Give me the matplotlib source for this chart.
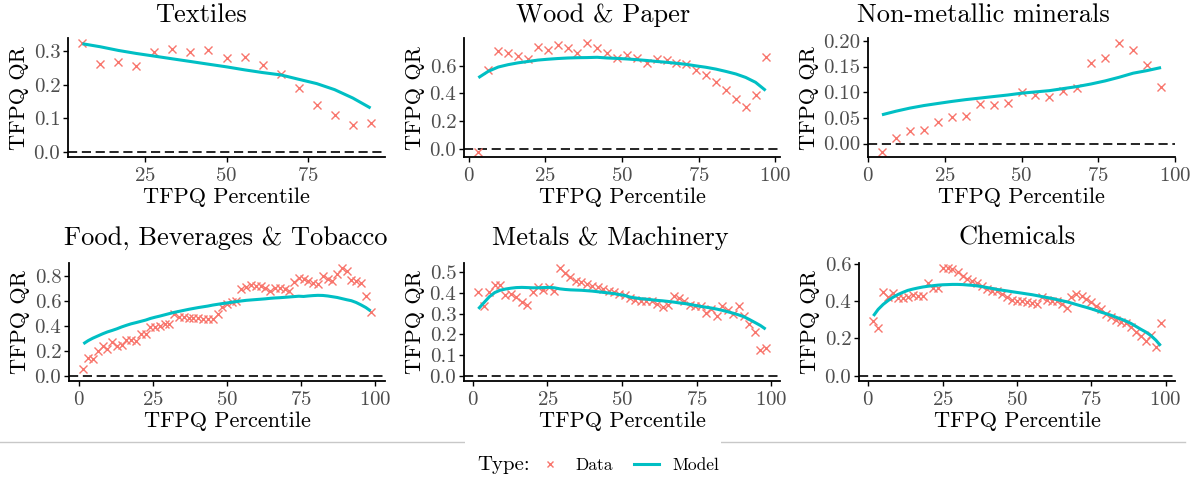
import matplotlib
matplotlib.use("Agg")
import matplotlib.pyplot as plt
from matplotlib.lines import Line2D
from matplotlib.patches import Rectangle
from matplotlib.ticker import FixedLocator, FormatStrFormatter

plt.rcParams['font.family'] = ['cmr10', 'DejaVu Sans']
plt.rcParams['mathtext.fontset'] = 'cm'
plt.rcParams['axes.formatter.use_mathtext'] = True

DATA_COLOR = '#F8766D'
MODEL_COLOR = '#00BFC4'

# ---------------- data ----------------
titles = ["Textiles", "Wood & Paper", "Non-metallic minerals",
          "Food, Beverages & Tobacco", "Metals & Machinery", "Chemicals"]

textiles_x = [5.6, 11.1, 16.7, 22.2, 27.8, 33.3, 38.9, 44.4, 50.0, 55.6, 61.1,
              66.7, 72.2, 77.8, 83.3, 88.9, 94.4]
textiles_data = [0.323, 0.263, 0.268, 0.255, 0.296, 0.306, 0.298, 0.302, 0.279,
                 0.281, 0.258, 0.233, 0.189, 0.140, 0.110, 0.080, 0.086]
textiles_model = [0.322, 0.313, 0.302, 0.293, 0.285, 0.277, 0.269, 0.261, 0.253,
                  0.244, 0.236, 0.229, 0.216, 0.203, 0.185, 0.160, 0.130]

wood_x = [3.2, 6.5, 9.7, 12.9, 16.1, 19.4, 22.6, 25.8, 29.0, 32.3, 35.5, 38.7,
          41.9, 45.2, 48.4, 51.6, 54.8, 58.1, 61.3, 64.5, 67.7, 71.0, 74.2, 77.4,
          80.6, 83.9, 87.1, 90.3, 93.5, 96.8]
wood_data = [-0.019, 0.571, 0.704, 0.692, 0.667, 0.651, 0.733, 0.710, 0.752, 0.726,
             0.692, 0.760, 0.730, 0.692, 0.653, 0.677, 0.658, 0.621, 0.646, 0.638,
             0.621, 0.609, 0.571, 0.534, 0.481, 0.426, 0.358, 0.305, 0.392, 0.663]
wood_model = [0.513, 0.560, 0.590, 0.607, 0.620, 0.630, 0.640, 0.646, 0.651, 0.655,
              0.657, 0.658, 0.660, 0.655, 0.652, 0.648, 0.643, 0.637, 0.630, 0.624,
              0.617, 0.609, 0.598, 0.588, 0.575, 0.558, 0.540, 0.515, 0.480, 0.421]

nonmet_x = [4.5, 9.1, 13.6, 18.2, 22.7, 27.3, 31.8, 36.4, 40.9, 45.5, 50.0, 54.5,
            59.1, 63.6, 68.2, 72.7, 77.3, 81.8, 86.4, 90.9, 95.5]
nonmet_data = [-0.0157, 0.011, 0.0235, 0.026, 0.0425, 0.0516, 0.053, 0.0778, 0.0758,
               0.079, 0.100, 0.0954, 0.090, 0.103, 0.1085, 0.157, 0.166, 0.195,
               0.182, 0.152, 0.111]
nonmet_model = [0.056, 0.063, 0.069, 0.074, 0.078, 0.082, 0.0855, 0.0885, 0.0915,
                0.0945, 0.098, 0.1005, 0.103, 0.107, 0.111, 0.116, 0.122, 0.129,
                0.137, 0.142, 0.148]

food_x = [1.6, 3.2, 4.8, 6.5, 8.1, 9.7, 11.3, 12.9, 14.5, 16.1, 17.7, 19.4, 21.0,
          22.6, 24.2, 25.8, 27.4, 29.0, 30.6, 32.3, 33.9, 35.5, 37.1, 38.7, 40.3,
          41.9, 43.5, 45.2, 46.8, 48.4, 50.0, 51.6, 53.2, 54.8, 56.5, 58.1, 59.7,
          61.3, 62.9, 64.5, 66.1, 67.7, 69.4, 71.0, 72.6, 74.2, 75.8, 77.4, 79.0,
          80.6, 82.3, 83.9, 85.5, 87.1, 88.7, 90.3, 91.9, 93.5, 95.2, 96.8, 98.4]
food_data = [0.056, 0.144, 0.133, 0.200, 0.234, 0.210, 0.270, 0.240, 0.247, 0.287,
             0.282, 0.276, 0.335, 0.330, 0.393, 0.393, 0.400, 0.410, 0.410, 0.490,
             0.473, 0.468, 0.462, 0.462, 0.462, 0.455, 0.452, 0.452, 0.490, 0.553,
             0.574, 0.593, 0.600, 0.694, 0.712, 0.726, 0.720, 0.715, 0.700, 0.680,
             0.700, 0.700, 0.694, 0.680, 0.750, 0.780, 0.775, 0.760, 0.740, 0.730,
             0.795, 0.775, 0.755, 0.813, 0.859, 0.835, 0.768, 0.755, 0.740, 0.635,
             0.512]
food_model = [0.255, 0.280, 0.300, 0.318, 0.335, 0.350, 0.362, 0.375, 0.390, 0.403,
              0.415, 0.425, 0.435, 0.445, 0.458, 0.468, 0.477, 0.487, 0.497, 0.507,
              0.515, 0.523, 0.531, 0.538, 0.545, 0.551, 0.557, 0.565, 0.571, 0.577,
              0.582, 0.588, 0.593, 0.598, 0.603, 0.606, 0.609, 0.612, 0.615, 0.619,
              0.622, 0.624, 0.627, 0.630, 0.633, 0.636, 0.634, 0.638, 0.641, 0.643,
              0.642, 0.638, 0.632, 0.626, 0.617, 0.608, 0.600, 0.586, 0.566, 0.545,
              0.518]

metals_x = [1.8, 3.6, 5.5, 7.3, 9.1, 10.9, 12.7, 14.5, 16.4, 18.2, 20.0, 21.8, 23.6,
            25.5, 27.3, 29.1, 30.9, 32.7, 34.5, 36.4, 38.2, 40.0, 41.8, 43.6, 45.5,
            47.3, 49.1, 50.9, 52.7, 54.5, 56.4, 58.2, 60.0, 61.8, 63.6, 65.5, 67.3,
            69.1, 70.9, 72.7, 74.5, 76.4, 78.2, 80.0, 81.8, 83.6, 85.5, 87.3, 89.1,
            90.9, 92.7, 94.5, 96.4, 98.2]
metals_data = [0.406, 0.335, 0.403, 0.439, 0.439, 0.390, 0.395, 0.379, 0.355, 0.342,
               0.403, 0.427, 0.415, 0.427, 0.411, 0.519, 0.497, 0.476, 0.460, 0.455,
               0.444, 0.435, 0.427, 0.419, 0.411, 0.403, 0.395, 0.392, 0.374, 0.366,
               0.360, 0.360, 0.363, 0.347, 0.331, 0.342, 0.387, 0.374, 0.363, 0.342,
               0.335, 0.335, 0.303, 0.323, 0.290, 0.335, 0.319, 0.298, 0.335, 0.290,
               0.250, 0.210, 0.124, 0.134]
metals_model = [0.323, 0.352, 0.382, 0.402, 0.413, 0.419, 0.423, 0.426, 0.427, 0.426,
                0.425, 0.425, 0.426, 0.427, 0.425, 0.420, 0.417, 0.415, 0.414, 0.413,
                0.411, 0.409, 0.406, 0.403, 0.400, 0.397, 0.392, 0.388, 0.380, 0.376,
                0.372, 0.370, 0.367, 0.364, 0.362, 0.359, 0.356, 0.352, 0.349, 0.345,
                0.340, 0.335, 0.331, 0.327, 0.322, 0.316, 0.309, 0.302, 0.294, 0.285,
                0.272, 0.258, 0.243, 0.225]

chem_x = [1.7, 3.3, 5.0, 6.7, 8.3, 10.0, 11.7, 13.3, 15.0, 16.7, 18.3, 20.0, 21.7,
          23.3, 25.0, 26.7, 28.3, 30.0, 31.7, 33.3, 35.0, 36.7, 38.3, 40.0, 41.7,
          43.3, 45.0, 46.7, 48.3, 50.0, 51.7, 53.3, 55.0, 56.7, 58.3, 60.0, 61.7,
          63.3, 65.0, 66.7, 68.3, 70.0, 71.7, 73.3, 75.0, 76.7, 78.3, 80.0, 81.7,
          83.3, 85.0, 86.7, 88.3, 90.0, 91.7, 93.3, 95.0, 96.7, 98.3]
chem_data = [0.293, 0.255, 0.449, 0.422, 0.445, 0.417, 0.417, 0.422, 0.431, 0.428,
             0.428, 0.494, 0.471, 0.471, 0.575, 0.575, 0.571, 0.553, 0.535, 0.517,
             0.507, 0.494, 0.481, 0.467, 0.453, 0.453, 0.440, 0.422, 0.404, 0.400,
             0.400, 0.395, 0.390, 0.385, 0.420, 0.405, 0.400, 0.400, 0.385, 0.360,
             0.420, 0.440, 0.425, 0.410, 0.395, 0.375, 0.355, 0.330, 0.315, 0.300,
             0.290, 0.280, 0.260, 0.235, 0.210, 0.185, 0.220, 0.155, 0.280]
chem_model = [0.320, 0.355, 0.382, 0.403, 0.420, 0.435, 0.447, 0.457, 0.464, 0.470,
              0.475, 0.479, 0.482, 0.485, 0.487, 0.488, 0.489, 0.489, 0.488, 0.486,
              0.484, 0.481, 0.477, 0.472, 0.467, 0.462, 0.458, 0.454, 0.450, 0.446,
              0.442, 0.438, 0.434, 0.429, 0.424, 0.419, 0.414, 0.408, 0.402, 0.396,
              0.389, 0.381, 0.373, 0.366, 0.358, 0.349, 0.340, 0.332, 0.323, 0.313,
              0.303, 0.292, 0.280, 0.264, 0.248, 0.234, 0.215, 0.190, 0.160]

xs = [textiles_x, wood_x, nonmet_x, food_x, metals_x, chem_x]
datas = [textiles_data, wood_data, nonmet_data, food_data, metals_data, chem_data]
models = [textiles_model, wood_model, nonmet_model, food_model, metals_model, chem_model]

x_ticks = [[25, 50, 75], [0, 25, 50, 75, 100], [0, 25, 50, 75, 100],
           [0, 25, 50, 75, 100], [0, 25, 50, 75, 100], [0, 25, 50, 75, 100]]
y_ticks = [[0.0, 0.1, 0.2, 0.3], [0.0, 0.2, 0.4, 0.6], [0.00, 0.05, 0.10, 0.15, 0.20],
           [0.0, 0.2, 0.4, 0.6, 0.8], [0.0, 0.1, 0.2, 0.3, 0.4, 0.5], [0.0, 0.2, 0.4, 0.6]]
y_fmt = ['%.1f', '%.1f', '%.2f', '%.1f', '%.1f', '%.1f']

# ---------------- layout ----------------
W, H = 1195, 483
fig = plt.figure(figsize=(W / 100, H / 100), dpi=100)

# panel boxes in pixels: left, top, right, bottom
boxes = [(68, 38, 385, 157), (464, 38, 780, 157), (868, 38, 1175, 157),
         (69, 263, 385, 381), (464, 263, 780, 381), (859, 263, 1175, 381)]
title_cx = [201, 603, 983, 226, 610, 1017]
title_y = [15, 15, 15, 238, 238, 238]

TICK_FS = 15
LABEL_FS = 16
TITLE_FS = 19


def expand(lo, hi, f=0.05):
    r = hi - lo
    return lo - f * r, hi + f * r


for i in range(6):
    l, t, r, b = boxes[i]
    ax = fig.add_axes([l / W, 1 - b / H, (r - l) / W, (b - t) / H])
    ax.axhline(0, color='black', lw=1.2, linestyle=(0, (5.5, 2.8)), zorder=1)
    ax.plot(xs[i], datas[i], linestyle='none', marker='x', color=DATA_COLOR,
            markersize=5.5, markeredgewidth=1.0, zorder=2)
    ax.plot(xs[i], models[i], color=MODEL_COLOR, lw=2.2, zorder=3,
            solid_capstyle='butt')

    xmin, xmax = min(xs[i]), max(xs[i])
    ax.set_xlim(*expand(xmin, xmax))
    ylo = min(min(datas[i]), min(models[i]), 0)
    yhi = max(max(datas[i]), max(models[i]), 0)
    ax.set_ylim(*expand(ylo, yhi))

    ax.xaxis.set_major_locator(FixedLocator(x_ticks[i]))
    ax.yaxis.set_major_locator(FixedLocator(y_ticks[i]))
    ax.yaxis.set_major_formatter(FormatStrFormatter(y_fmt[i]))

    for s in ['top', 'right']:
        ax.spines[s].set_visible(False)
    for s in ['left', 'bottom']:
        ax.spines[s].set_linewidth(1.3)
        ax.spines[s].set_color('black')
    ax.tick_params(axis='both', length=3.5, width=1.0, color='black',
                   labelsize=TICK_FS, labelcolor='#4D4D4D', pad=2)
    ax.tick_params(axis='x', pad=3.5)

    ax.set_xlabel('TFPQ Percentile', fontsize=LABEL_FS, labelpad=2)
    ax.set_ylabel('TFPQ QR', fontsize=LABEL_FS, labelpad=3)

    fig.text(title_cx[i] / W, 1 - title_y[i] / H, titles[i], fontsize=TITLE_FS,
             ha='center', va='center')

# ---------------- legend ----------------
line_y = 442
fig.add_artist(Line2D([0, 1185 / W], [1 - line_y / H, 1 - line_y / H],
                      transform=fig.transFigure, color='#C8C8C8', lw=1.0, zorder=1))
fig.add_artist(Rectangle((465 / W, 0), (721 - 465) / W, 1 - (line_y - 2) / H,
                         transform=fig.transFigure, facecolor='white',
                         edgecolor='none', zorder=2))
fig.text(477 / W, 1 - 465 / H, 'Type:', fontsize=15, ha='left', va='center', zorder=3)

handles = [Line2D([], [], linestyle='none', marker='x', color=DATA_COLOR,
                  markersize=5, markeredgewidth=1.0),
           Line2D([], [], color=MODEL_COLOR, lw=2.2)]
leg = fig.legend(handles, ['Data', 'Model'], ncol=2, loc='center',
                 bbox_to_anchor=((545 + 712) / 2 / W, 1 - 465 / H),
                 frameon=False, fontsize=12.5, handlelength=1.4,
                 handletextpad=0.8, columnspacing=1.2)
leg.set_zorder(3)

fig.savefig('out.png', dpi=100, facecolor='white')
